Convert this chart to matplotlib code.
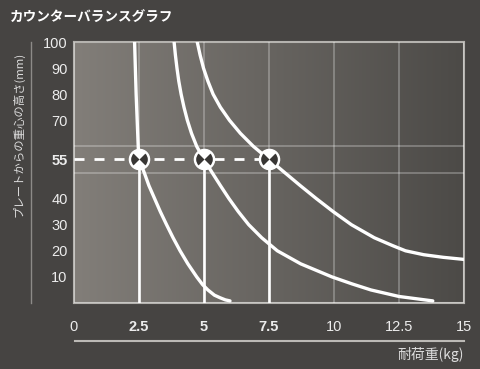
import numpy as np
import matplotlib
matplotlib.use("Agg")
import matplotlib.pyplot as plt
from matplotlib.path import Path
from matplotlib.lines import Line2D
from matplotlib.colors import LinearSegmentedColormap
from matplotlib import font_manager

# 日本語フォント + 数字用フォント
jp = ['Noto Sans CJK JP', 'DejaVu Sans']
names = {f.name for f in font_manager.fontManager.ttflist}
num_font = 'Liberation Sans Narrow' if 'Liberation Sans Narrow' in names else 'Liberation Sans'
plt.rcParams['font.family'] = jp

title = "カウンターバランスグラフ"
ylabel = "プレートからの重心の高さ(mm)"
xlabel = "耐荷重(kg)"

# 3本のカーブ (耐荷重kg, 重心の高さmm)
curve1_x = [2.33, 2.36, 2.39, 2.43, 2.47, 2.50, 2.70, 2.88, 3.10, 3.32, 3.56,
            3.81, 4.08, 4.38, 4.72, 4.95, 5.15, 5.40, 5.62, 5.82, 6.0]
curve1_y = [100, 90, 80, 70, 60, 55, 50, 45, 40, 35, 30,
            25, 20, 15, 10, 7, 5, 3, 2, 1.2, 0.8]
curve2_x = [3.85, 3.90, 3.96, 4.03, 4.12, 4.23, 4.36, 4.52, 4.72, 5.0, 5.31,
            5.63, 5.96, 6.32, 6.72, 7.22, 7.82, 8.72, 9.92, 10.7, 11.42, 12.5, 13.8]
curve2_y = [100, 95, 90, 85, 80, 75, 70, 65, 60, 55, 50,
            45, 40, 35, 30, 25, 20, 15, 10, 7.3, 5, 2.5, 0.8]
curve3_x = [4.74, 4.85, 4.98, 5.15, 5.35, 5.63, 5.98, 6.40, 6.90, 7.5, 8.1,
            8.7, 9.32, 9.97, 10.67, 11.55, 12.25, 12.75, 13.45, 14.2, 15.0]
curve3_y = [100, 95, 90, 85, 80, 75, 70, 65, 60, 55, 50,
            45, 40, 35, 30, 25, 22, 20, 18.5, 17.5, 16.7]

loads = [2.5, 5, 7.5]
height = 55

xticks = [0, 2.5, 5, 7.5, 10, 12.5, 15]
xtick_labels = ["0", "2.5", "5", "7.5", "10", "12.5", "15"]
yticks = [10, 20, 30, 40, 55, 70, 80, 90, 100]
ytick_labels = ["10", "20", "30", "40", "55", "70", "80", "90", "100"]

bg = '#464442'
fig = plt.figure(figsize=(4.8, 3.69), dpi=100, facecolor=bg)
ax = fig.add_axes([74/480, 66/369, 390/480, 261/369])
ax.set_facecolor(bg)

# 背景グラデーション
cmap = LinearSegmentedColormap.from_list('bg', ['#827e79', '#4c4a47'])
ax.imshow(np.linspace(0, 1, 256).reshape(1, -1), extent=[0, 15, 0, 100],
          aspect='auto', cmap=cmap, zorder=0)

ax.set_xlim(0, 15)
ax.set_ylim(0, 100)

# グリッド
ax.set_xticks(xticks)
ax.set_yticks(yticks)
ax.set_yticks(np.arange(0, 101, 10), minor=True)
ax.grid(which='major', axis='x', color='#ffffff', alpha=0.3, lw=1.2, zorder=1)
ax.grid(which='minor', axis='y', color='#ffffff', alpha=0.3, lw=1.2, zorder=1)
ax.set_axisbelow(False)

ax.tick_params(which='both', length=0)
ax.tick_params(axis='y', pad=4.5)
ax.tick_params(axis='x', pad=12)
ax.set_xticklabels(xtick_labels)
ax.set_yticklabels(ytick_labels)
for lab in ax.get_xticklabels():
    lab.set_family(num_font)
    lab.set_fontsize(10.5)
    lab.set_color('#ececec')
    if lab.get_text() in ("2.5", "5", "7.5"):
        lab.set_fontweight('bold')
for lab in ax.get_yticklabels():
    lab.set_family(num_font)
    lab.set_fontsize(10.5)
    lab.set_color('#ececec')
    if lab.get_text() == "55":
        lab.set_fontweight('bold')

for s in ax.spines.values():
    s.set_color('#b5b3af')
    s.set_linewidth(1.5)

# カーブ
for cx, cy in [(curve1_x, curve1_y), (curve2_x, curve2_y), (curve3_x, curve3_y)]:
    ax.plot(cx, cy, color='white', lw=2.4, zorder=3,
            solid_capstyle='round', solid_joinstyle='round')

# 縦線と破線
for x in loads:
    ax.plot([x, x], [0, height], color='white', lw=1.9, zorder=3)
ax.plot([0, loads[-1]], [height, height], color='white', lw=2,
        dashes=(3.6, 3.6), zorder=3)

# マーカー
ax.plot(loads, [height]*len(loads), 'o', ms=14.5, mfc='white', mec='white', zorder=4)
for th1, th2 in [(135, 225), (-45, 45)]:
    ax.plot(loads, [height]*len(loads), ls='none', marker=Path.wedge(th1, th2),
            ms=12, mfc='#383634', mec='none', zorder=5)

# テキスト
fig.text(10/480, 1 - 18/369, title, color='white', fontsize=9.8,
         fontweight='bold', ha='left', va='center')
fig.text(18/480, 1 - 134/369, ylabel, color='#dddddd', fontsize=8.2,
         rotation=90, ha='center', va='center')
fig.text(464/480, 1 - 354/369, xlabel, color='#dddddd', fontsize=10,
         ha='right', va='center')

# 区切り線
fig.add_artist(Line2D([31/480, 31/480], [66/369, 327/369], color='#8d8b88', lw=1))
fig.add_artist(Line2D([75/480, 464/480], [28/369, 28/369], color='#bcbab6', lw=1.5))

fig.savefig('out.png', dpi=100, facecolor=bg)
